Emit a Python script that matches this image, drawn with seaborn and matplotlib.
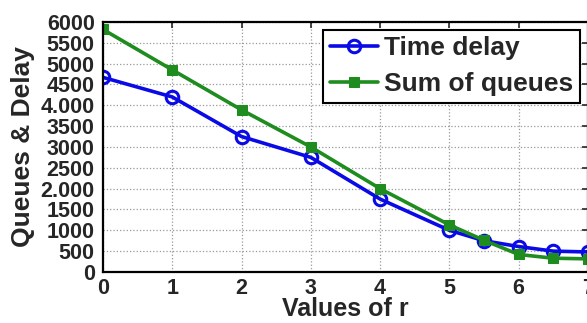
import matplotlib
matplotlib.use("Agg")
import matplotlib.pyplot as plt
import seaborn as sns
import pandas as pd
from matplotlib.ticker import FixedLocator, FixedFormatter

r_values = [0, 1, 2, 3, 4, 5, 5.5, 6, 6.5, 7]
time_delay = [4670, 4200, 3250, 2750, 1750, 1000, 750, 610, 500, 480]
sum_queues = [5820, 4850, 3890, 3000, 2000, 1130, 760, 420, 330, 315]
y_ticks = [0, 500, 1000, 1500, 2000, 2500, 3000, 3500, 4000, 4500, 5000, 5500, 6000]
y_tick_labels = ["0", "500", "1000", "1500", "2.000", "2500", "3000", "3500",
                 "4.000", "4500", "5000", "5500", "6000"]
x_ticks = [0, 1, 2, 3, 4, 5, 6, 7]

sns.set_style("white")
plt.rcParams['font.family'] = ['Liberation Sans', 'DejaVu Sans']
plt.rcParams['font.weight'] = 'bold'

fig = plt.figure(figsize=(5.87, 3.23), dpi=100)
ax = fig.add_axes([0.1755, 0.158, 0.826, 0.774])

df_td = pd.DataFrame({"r": r_values, "v": time_delay})
df_sq = pd.DataFrame({"r": r_values, "v": sum_queues})

sns.lineplot(data=df_td, x="r", y="v", ax=ax, color="#0a0ae6", linewidth=2.6,
             marker="o", markersize=9, markerfacecolor="none",
             markeredgecolor="#0a0ae6", markeredgewidth=2.2, label="Time delay")
sns.lineplot(data=df_sq, x="r", y="v", ax=ax, color="#1e8c1e", linewidth=2.6,
             marker="s", markersize=6.5, markerfacecolor="#1e8c1e",
             markeredgecolor="#1e8c1e", label="Sum of queues")

ax.set_xlim(0, 7)
ax.set_ylim(0, 6000)
ax.xaxis.set_major_locator(FixedLocator(x_ticks))
ax.yaxis.set_major_locator(FixedLocator(y_ticks))
ax.yaxis.set_major_formatter(FixedFormatter(y_tick_labels))
ax.tick_params(direction="in", top=True, right=True, length=4, width=1.2,
               labelsize=15.5)
ax.tick_params(axis="y", pad=6)
ax.tick_params(axis="x", pad=4)
for lab in ax.get_xticklabels() + ax.get_yticklabels():
    lab.set_fontweight("bold")
ax.grid(True, linestyle=":", color="#999999", linewidth=0.9)
for s in ax.spines.values():
    s.set_linewidth(1.6)
    s.set_color("black")

ax.set_xlabel("Values of r", fontsize=18, fontweight="bold", labelpad=-1)
ax.set_ylabel("Queues & Delay", fontsize=19, fontweight="bold", labelpad=4)

leg = ax.legend(loc="upper right", frameon=True, fancybox=False,
                edgecolor="black", framealpha=1, borderpad=0.25,
                handlelength=1.8, handletextpad=0.25, labelspacing=0.45,
                borderaxespad=0.3, prop={"weight": "bold", "size": 19})
leg.get_frame().set_linewidth(1.5)

fig.savefig("out.png", dpi=100)
